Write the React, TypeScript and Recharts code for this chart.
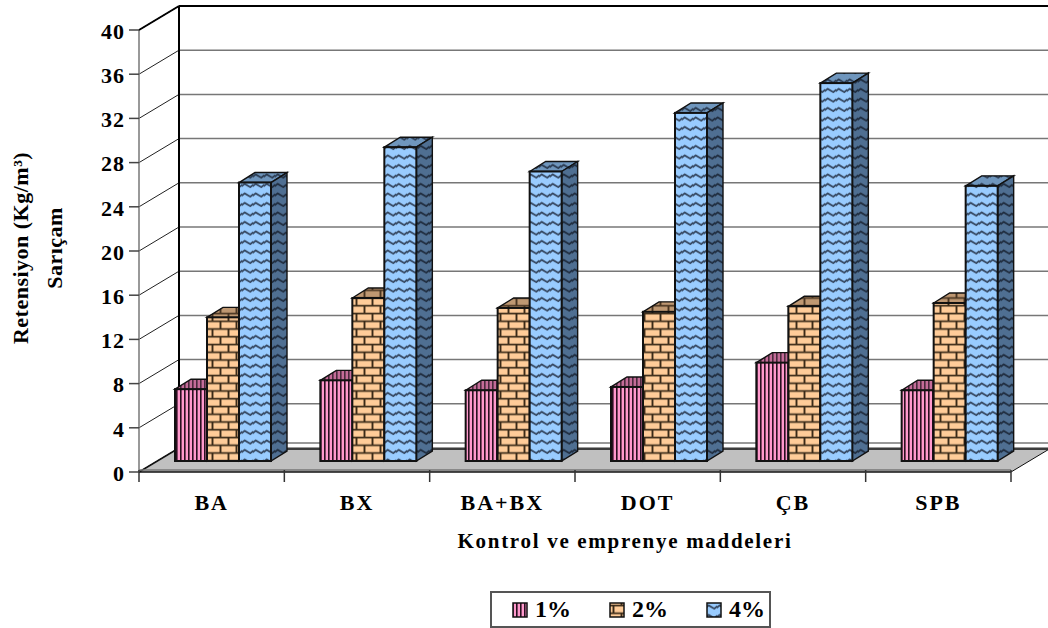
import React from 'react'
import { BarChart, Bar, XAxis, YAxis, CartesianGrid, Legend, usePlotArea } from 'recharts'

const categories = ['BA', 'BX', 'BA+BX', 'DOT', 'ÇB', 'SPB']
const series1 = [6.5, 7.3, 6.4, 6.7, 8.9, 6.4]
const series2 = [13.0, 14.75, 13.85, 13.5, 14.0, 14.3]
const series4 = [25.2, 28.4, 26.2, 31.5, 34.2, 24.9]
const yTicks = [0, 4, 8, 12, 16, 20, 24, 28, 32, 36, 40]

const chartData = categories.map((name, i) => ({
  name,
  s1: series1[i],
  s2: series2[i],
  s4: series4[i],
}))

const FONT = '"Liberation Serif", "Times New Roman", serif'
// 3D projection: wall depth, bar offset into the floor, bar depth
const WALL_DX = 40
const WALL_DY = 24
const BAR_DX = 12
const BAR_DY = 11
const SIDE_DX = 16
const SIDE_DY = 10

function Patterns() {
  const stripes = (id: string, bg: string, fg: string) => (
    <pattern id={id} width="4" height="4" patternUnits="userSpaceOnUse" key={id}>
      <rect width="4" height="4" fill={bg} />
      <rect x="0" width="1.6" height="4" fill={fg} />
    </pattern>
  )
  const bricks = (id: string, bg: string, fg: string) => (
    <pattern id={id} width="16" height="15.5" patternUnits="userSpaceOnUse" key={id}>
      <rect width="16" height="15.5" fill={bg} />
      <path d="M0 3.5H16M0 11.25H16M4.5 3.5V11.25M12.5 11.25V15.5M12.5 0V3.5" stroke={fg} strokeWidth="1.9" fill="none" />
    </pattern>
  )
  const waves = (id: string, bg: string, fg: string) => (
    <pattern id={id} width="11" height="9.5" patternUnits="userSpaceOnUse" key={id}>
      <rect width="11" height="9.5" fill={bg} />
      <path d="M-1 6.2L2.75 3.4L8.25 6.6L12 3.8" stroke={fg} strokeWidth="1.8" strokeLinejoin="round" fill="none" />
    </pattern>
  )
  return (
    <defs>
      {stripes('stripe-front', '#ff99cc', '#2a1020')}
      {stripes('stripe-top', '#c46c98', '#4a2a3c')}
      {stripes('stripe-side', '#8c4c6c', '#201018')}
      {bricks('brick-front', '#ffcc99', '#3a2a18')}
      {bricks('brick-top', '#bf9872', '#4a3622')}
      {bricks('brick-side', '#8c7054', '#201810')}
      {waves('wave-front', '#99ccff', '#34465f')}
      {waves('wave-top', '#6f96bd', '#2a3a50')}
      {waves('wave-side', '#4f6f92', '#1f2c3e')}
    </defs>
  )
}

// Back wall, side wall and floor of the 3D box
function Box3D() {
  const plot = usePlotArea()
  if (!plot) return null
  const left = plot.x
  const right = plot.x + plot.width
  const top = plot.y
  const bottom = plot.y + plot.height
  const floorBack = bottom - WALL_DY
  return (
    <g>
      <polygon
        points={`${left},${bottom} ${left + WALL_DX},${floorBack} ${right + WALL_DX},${floorBack} ${right},${bottom}`}
        fill="#c0c0c0"
      />
      <line x1={left + WALL_DX} y1={floorBack - 5} x2={right + WALL_DX} y2={floorBack - 5} stroke="#777" strokeWidth={1.5} />
      <line x1={left + WALL_DX} y1={floorBack + 1} x2={right + WALL_DX} y2={floorBack + 1} stroke="#111" strokeWidth={1.5} />
      <line x1={left} y1={bottom} x2={left + WALL_DX} y2={floorBack} stroke="#111" strokeWidth={1.5} />
      <line x1={right} y1={bottom} x2={right + WALL_DX} y2={floorBack} stroke="#111" strokeWidth={1} />
      <line x1={left} y1={bottom - 2} x2={right} y2={bottom - 2} stroke="#777" strokeWidth={1.5} />
      <line x1={left} y1={bottom} x2={right} y2={bottom} stroke="#111" strokeWidth={1.5} />
      <line x1={left} y1={top} x2={left} y2={bottom} stroke="#777" strokeWidth={1.5} />
      <line x1={left} y1={top} x2={left + WALL_DX} y2={top - WALL_DY} stroke="#000" strokeWidth={2} />
      <line x1={left + WALL_DX} y1={top - WALL_DY} x2={left + WALL_DX} y2={floorBack} stroke="#000" strokeWidth={2} />
      <line x1={left + WALL_DX} y1={top - WALL_DY} x2={right + WALL_DX} y2={top - WALL_DY} stroke="#000" strokeWidth={2} />
    </g>
  )
}

function gridLine(props: any) {
  const { x1, x2, y1, key } = props
  return (
    <g key={key}>
      <line x1={x1} y1={y1} x2={x1 + WALL_DX} y2={y1 - WALL_DY} stroke="#222" strokeWidth={1} />
      <line x1={x1 + WALL_DX} y1={y1 - WALL_DY} x2={x2 + WALL_DX} y2={y1 - WALL_DY} stroke="#777" strokeWidth={1.5} />
    </g>
  )
}

const bar3d = (kind: string) => (props: any) => {
  const { x, y, width, height } = props
  const fx = x + BAR_DX
  const fy = y - BAR_DY
  return (
    <g stroke="#111" strokeWidth={1.4}>
      <polygon
        points={`${fx},${fy} ${fx + SIDE_DX},${fy - SIDE_DY} ${fx + width + SIDE_DX},${fy - SIDE_DY} ${fx + width},${fy}`}
        fill={`url(#${kind}-top)`}
      />
      <polygon
        points={`${fx + width},${fy} ${fx + width + SIDE_DX},${fy - SIDE_DY} ${fx + width + SIDE_DX},${fy + height - SIDE_DY} ${fx + width},${fy + height}`}
        fill={`url(#${kind}-side)`}
      />
      <rect x={fx} y={fy} width={width} height={height} fill={`url(#${kind}-front)`} strokeWidth={2} />
    </g>
  )
}

function CategoryTick(props: any) {
  const { x, y, index, payload, visibleTicksCount } = props
  const band = 872 / categories.length
  const edge = x - band / 2
  return (
    <g>
      <line x1={edge} y1={470} x2={edge} y2={482} stroke="#333" strokeWidth={1.5} />
      {index === visibleTicksCount - 1 && (
        <line x1={edge + band} y1={470} x2={edge + band} y2={482} stroke="#333" strokeWidth={1.5} />
      )}
      <text x={x} y={y + 30} textAnchor="middle" fontFamily={FONT} fontWeight="bold" fontSize={22} letterSpacing={2} fill="#000">
        {payload.value}
      </text>
    </g>
  )
}

function XAxisTitle() {
  return (
    <text x={625} y={548} textAnchor="middle" fontFamily={FONT} fontWeight="bold" fontSize={21} letterSpacing={1.7} fill="#000">
      Kontrol ve emprenye maddeleri
    </text>
  )
}

function YAxisTitle() {
  const cy = 248
  return (
    <g fontFamily={FONT} fontWeight="bold" fontSize={22} letterSpacing={0.5} fill="#000" textAnchor="middle">
      <text transform={`translate(28 ${cy}) rotate(-90)`}>Retensiyon (Kg/m³)</text>
      <text transform={`translate(62 ${cy}) rotate(-90)`}>Sarıçam</text>
    </g>
  )
}

const legendKinds: Record<string, string> = { s1: 'stripe', s2: 'brick', s4: 'wave' }

function LegendBox({ payload }: any) {
  return (
    <div
      style={{
        boxSizing: 'border-box',
        width: 281,
        height: 37,
        background: '#fff',
        border: '2px solid #555',
        display: 'flex',
        alignItems: 'center',
        paddingLeft: 20,
        fontFamily: FONT,
        fontWeight: 'bold',
        fontSize: 24,
        color: '#000',
      }}
    >
      {(payload ?? []).map((item: any) => (
        <div key={item.dataKey} style={{ display: 'flex', alignItems: 'center', width: 97, flexShrink: 0 }}>
          <svg width={16} height={16} style={{ marginRight: 7 }}>
            <rect x={1} y={1} width={14} height={14} fill={`url(#${legendKinds[item.dataKey]}-front)`} stroke="#111" strokeWidth={1.5} />
          </svg>
          {item.value}
        </div>
      ))}
    </div>
  )
}

export default function App() {
  return (
    <div style={{ position: 'absolute', left: 0, top: 0, width: 1048, height: 628, background: '#fff' }}>
      <BarChart
        width={1048}
        height={628}
        data={chartData}
        margin={{ top: 30, right: 37, left: 0, bottom: 0 }}
        barCategoryGap={24}
        barGap={0}
      >
        <Patterns />
        <Box3D />
        <CartesianGrid horizontal={gridLine} vertical={false} />
        <XAxis
          dataKey="name"
          axisLine={false}
          tickLine={false}
          height={119}
          interval={0}
          tick={<CategoryTick />}
          label={<XAxisTitle />}
        />
        <YAxis
          domain={[0, 40]}
          ticks={yTicks}
          interval={0}
          width={139}
          axisLine={false}
          tickLine={{ stroke: '#444', strokeWidth: 1.5 }}
          tickSize={10}
          tickMargin={4}
          tick={{ fontFamily: FONT, fontWeight: 'bold', fontSize: 22, letterSpacing: 1, fill: '#000', dy: 1 }}
          label={<YAxisTitle />}
        />
        <Bar dataKey="s1" name="1%" isAnimationActive={false} shape={bar3d('stripe')} />
        <Bar dataKey="s2" name="2%" isAnimationActive={false} shape={bar3d('brick')} />
        <Bar dataKey="s4" name="4%" isAnimationActive={false} shape={bar3d('wave')} />
        <Legend
          verticalAlign="bottom"
          content={<LegendBox />}
          wrapperStyle={{ left: 490, bottom: 0, width: 281, height: 37 }}
        />
      </BarChart>
    </div>
  )
}
